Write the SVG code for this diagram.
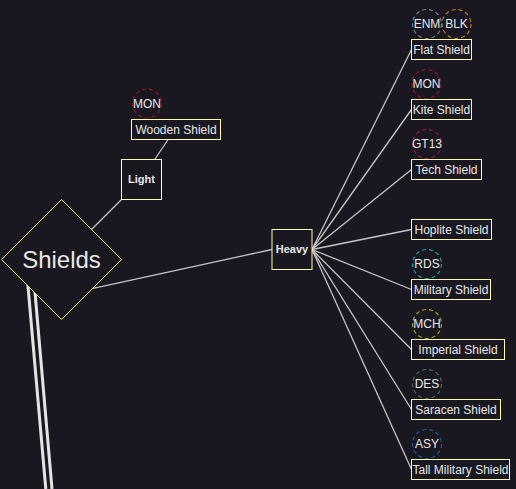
<svg xmlns="http://www.w3.org/2000/svg" width="516" height="489" viewBox="0 0 516 489">
<style>
.bg{fill:#19171f}
.edge{stroke:#c4c4c4;stroke-width:1.3;fill:none}
.trunk{stroke:#e4e4e4;stroke-width:3;fill:none}
.box{fill:#19171f;stroke:#fffbb4;stroke-width:1}
.lbl{font-family:"Liberation Sans",Arial,sans-serif;font-size:12px;fill:#e8e8e8;text-anchor:middle}
.mid{font-family:"Liberation Sans",Arial,sans-serif;font-size:11px;font-weight:bold;fill:#e8e8e8;text-anchor:middle}
.tag{fill:none;stroke-width:1.2;stroke-dasharray:4 3}
</style>
<rect class="bg" x="0" y="0" width="516" height="489"/>
<g id="connectors">
<line class="trunk" x1="27" y1="275" x2="45.8" y2="489"/>
<line class="trunk" x1="33.5" y1="275" x2="52" y2="489"/>
<line class="edge" x1="90" y1="231" x2="122" y2="199"/>
<line class="edge" x1="92" y1="288.6" x2="272" y2="249.5"/>
<line class="edge" x1="155" y1="159" x2="168.5" y2="139"/>
<line class="edge" x1="312" y1="249.5" x2="411.5" y2="49.5"/>
<line class="edge" x1="312" y1="249.5" x2="411.5" y2="109.5"/>
<line class="edge" x1="312" y1="249.5" x2="411.5" y2="169.5"/>
<line class="edge" x1="312" y1="249.5" x2="411.5" y2="229.5"/>
<line class="edge" x1="312" y1="249.5" x2="411.5" y2="289.5"/>
<line class="edge" x1="312" y1="249.5" x2="411.5" y2="349.5"/>
<line class="edge" x1="312" y1="249.5" x2="411.5" y2="409.5"/>
<line class="edge" x1="312" y1="249.5" x2="411.5" y2="469.5"/>
</g>
<g id="shields">
<polygon points="61.5,199.5 121.5,259.5 61.5,319.5 1.5,259.5" fill="#19171f" stroke="#f4f03a" stroke-width="1"/>
<text x="61.5" y="268.3" font-family="'Liberation Sans',Arial,sans-serif" font-size="24" fill="#e8e8e8" text-anchor="middle">Shields</text>
</g>
<g id="light">
<rect class="box" x="121.5" y="159.5" width="40" height="40"/>
<text class="mid" x="141.5" y="183">Light</text>
</g>
<g id="wooden-shield">
<circle class="tag" cx="147" cy="103.5" r="14.5" stroke="#9c1422"/>
<text class="lbl" x="147" y="108">MON</text>
<rect class="box" x="131.5" y="119.5" width="89" height="20"/>
<text class="lbl" x="176" y="133.5">Wooden Shield</text>
</g>
<g id="heavy">
<rect class="box" x="272" y="229.5" width="40" height="40"/>
<text class="mid" x="292" y="253.3">Heavy</text>
</g>
<g id="flat-shield">
<circle class="tag" cx="427" cy="24" r="14.5" stroke="#7a7a7a" stroke-dasharray="2 2"/>
<circle class="tag" cx="456.5" cy="24" r="14.5" stroke="#c07820"/>
<text class="lbl" x="427" y="28.3">ENM</text>
<text class="lbl" x="456.5" y="28.3">BLK</text>
<rect class="box" x="411.5" y="39.5" width="60" height="20"/>
<text class="lbl" x="441.5" y="53.5">Flat Shield</text>
</g>
<g id="kite-shield">
<circle class="tag" cx="426.5" cy="84" r="14.5" stroke="#9c1422"/>
<text class="lbl" x="426.5" y="88.3">MON</text>
<rect class="box" x="411.5" y="99.5" width="60" height="20"/>
<text class="lbl" x="441.5" y="113.5">Kite Shield</text>
</g>
<g id="tech-shield">
<circle class="tag" cx="427" cy="144" r="14.5" stroke="#a0124c"/>
<text class="lbl" x="427" y="148.3">GT13</text>
<rect class="box" x="411.5" y="159.5" width="70" height="20"/>
<text class="lbl" x="446.5" y="173.5">Tech Shield</text>
</g>
<g id="hoplite-shield">
<rect class="box" x="411.5" y="219.5" width="80" height="20"/>
<text class="lbl" x="451.5" y="233.5">Hoplite Shield</text>
</g>
<g id="military-shield">
<circle class="tag" cx="427" cy="264" r="14.5" stroke="#12a0a8"/>
<text class="lbl" x="427" y="268.3">RDS</text>
<rect class="box" x="411.5" y="279.5" width="79" height="20"/>
<text class="lbl" x="451" y="293.5">Military Shield</text>
</g>
<g id="imperial-shield">
<circle class="tag" cx="427" cy="324" r="14.5" stroke="#a0a012"/>
<text class="lbl" x="427" y="328.3">MCH</text>
<rect class="box" x="411.5" y="339.5" width="93" height="20"/>
<text class="lbl" x="458" y="353.5">Imperial Shield</text>
</g>
<g id="saracen-shield">
<circle class="tag" cx="427" cy="384" r="14.5" stroke="#4a6868"/>
<text class="lbl" x="427" y="388.3">DES</text>
<rect class="box" x="411.5" y="399.5" width="89" height="20"/>
<text class="lbl" x="456" y="413.5">Saracen Shield</text>
</g>
<g id="tall-military-shield">
<circle class="tag" cx="427" cy="444" r="14.5" stroke="#1a5aa0"/>
<text class="lbl" x="427" y="448.3">ASY</text>
<rect class="box" x="411.5" y="459.5" width="98" height="20"/>
<text class="lbl" x="460.5" y="473.5">Tall Military Shield</text>
</g>
</svg>
